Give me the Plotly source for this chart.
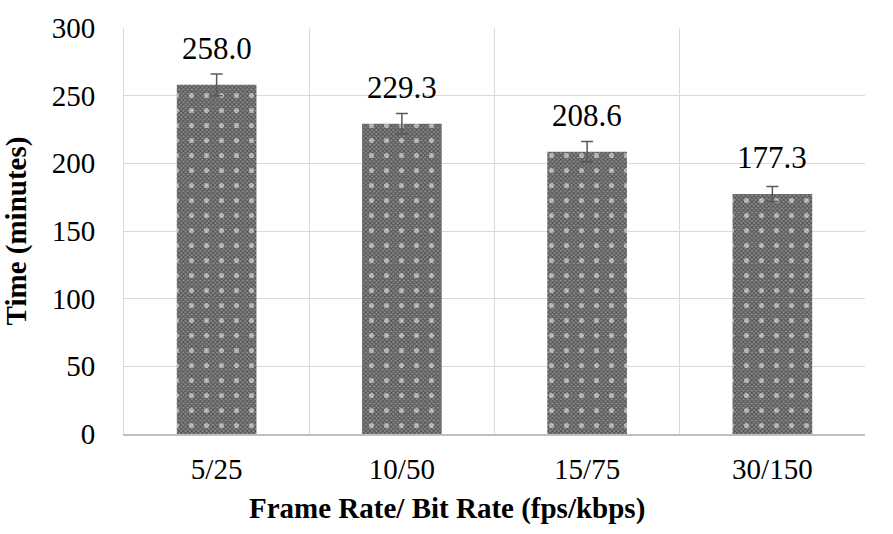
import plotly.graph_objects as go

categories = ["5/25", "10/50", "15/75", "30/150"]
times = [258.0, 229.3, 208.6, 177.3]
errors = [8.0, 7.5, 7.5, 5.5]
labels = [f"{v:.1f}" for v in times]
x_title = "Frame Rate/ Bit Rate (fps/kbps)"
y_title = "Time (minutes)"

font_family = "Liberation Serif, Times New Roman, serif"

W, H = 893, 534
M_L, M_R, M_T, M_B = 124, 28, 22, 100

fig = go.Figure()

# base layer: fine dark checker texture
fig.add_trace(go.Bar(
    x=categories, y=times, width=0.43,
    marker=dict(
        color="#8c8c8c",
        line=dict(width=0),
        pattern=dict(shape="x", size=3, solidity=0.55, fgcolor="#141414", bgcolor="#8c8c8c"),
    ),
    hoverinfo="skip", showlegend=False,
))

# top layer: white dots and error bars
fig.add_trace(go.Bar(
    x=categories, y=times, width=0.43,
    marker=dict(
        color="rgba(0,0,0,0)",
        line=dict(width=0),
        pattern=dict(shape=".", size=15, solidity=0.09, fgcolor="white", bgcolor="rgba(0,0,0,0)", fillmode="overlay"),
    ),
    error_y=dict(type="data", array=errors, visible=True, color="#595959", thickness=1.5, width=6),
    showlegend=False,
))

# value labels above each bar
for cat, val, lab in zip(categories, times, labels):
    fig.add_annotation(
        x=cat, y=val, text=lab, showarrow=False,
        yanchor="bottom", yshift=17,
        font=dict(family=font_family, size=31, color="black"),
    )

# x-axis title, centred on the whole figure width
plot_w = W - M_L - M_R
fig.add_annotation(
    xref="paper", yref="paper",
    x=(W / 2 - M_L) / plot_w, y=0,
    yanchor="middle", yshift=-(508 - (H - M_B)),
    text=f"<b>{x_title}</b>", showarrow=False,
    font=dict(family=font_family, size=29, color="black"),
)

fig.update_layout(
    width=W, height=H,
    margin=dict(l=M_L, r=M_R, t=M_T, b=M_B),
    barmode="overlay",
    plot_bgcolor="white", paper_bgcolor="white",
    font=dict(family=font_family, size=29, color="black"),
)

fig.update_xaxes(
    type="category", tickson="boundaries",
    showgrid=True, gridcolor="#d9d9d9", gridwidth=1,
    showline=True, linecolor="#bfbfbf", linewidth=1.5,
    ticks="", ticklen=0, ticklabelstandoff=8,
    tickfont=dict(family=font_family, size=29),
)

fig.update_yaxes(
    range=[0, 300], tickvals=[0, 50, 100, 150, 200, 250, 300],
    showgrid=True, gridcolor="#d9d9d9", gridwidth=1,
    zeroline=False, showline=True, linecolor="#d9d9d9", linewidth=1,
    ticks="", ticklabelstandoff=22,
    tickfont=dict(family=font_family, size=29),
    title=dict(text=f"<b>{y_title}</b>", font=dict(family=font_family, size=29), standoff=18),
)

fig.write_html("out.html")
